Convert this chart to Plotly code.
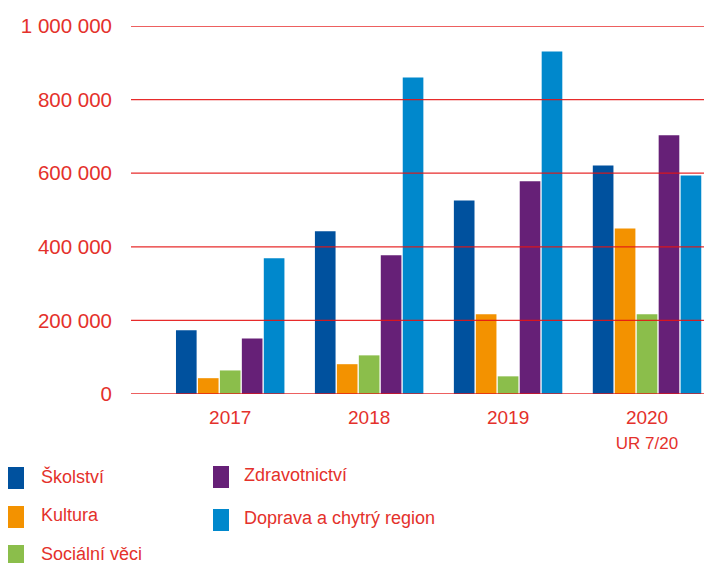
import plotly.graph_objects as go

years = ["2017", "2018", "2019", "2020"]
year_labels = ["2017", "2018", "2019", "2020<br><span style='font-size:17px'>UR 7/20</span>"]
series_names = ["Školství", "Kultura", "Sociální věci", "Zdravotnictví", "Doprava a chytrý region"]
skolstvi = [173000, 442000, 526000, 621000]
kultura = [43000, 81000, 217000, 450000]
socialni = [64000, 105000, 48000, 217000]
zdravotnictvi = [151000, 377000, 578000, 703000]
doprava = [369000, 860000, 931000, 594000]
colors = ["#00519e", "#f39200", "#8bbe4b", "#662077", "#0088cc"]
y_ticks = [0, 200000, 400000, 600000, 800000, 1000000]

values = [skolstvi, kultura, socialni, zdravotnictvi, doprava]
RED = "#e4312b"
W, H = 704, 563
ML, MR, MT, MB = 131, 0, 26, 169
PW, PH = W - ML - MR, H - MT - MB


def px(x):
    return (x - ML) / PW


def py(y):
    return (H - MB - y) / PH


fig = go.Figure()
for name, vals, col in zip(series_names, values, colors):
    fig.add_trace(go.Bar(x=years, y=vals, name=name, marker=dict(color=col, line=dict(width=0)),
                         showlegend=False))

for v in y_ticks:
    fig.add_shape(type="line", xref="paper", x0=0, x1=1, yref="y", y0=v, y1=v,
                  line=dict(color="rgba(228,20,20,0.9)", width=1.3), layer="above")

# manual legend
legend_pos = [(8, 478, 39), (8, 517, 39), (8, 556, 39), (213, 477, 242), (213, 520, 242)]
for name, col, (sx, cy, tx) in zip(series_names, colors, legend_pos):
    fig.add_shape(type="rect", xref="paper", yref="paper",
                  x0=px(sx), x1=px(sx + 16), y0=py(cy - 11), y1=py(cy + 11),
                  fillcolor=col, line=dict(width=0))
    fig.add_annotation(xref="paper", yref="paper", x=px(tx), y=py(cy - 2), text=name,
                       showarrow=False, xanchor="left", yanchor="middle",
                       font=dict(family="Liberation Sans, Arial", size=18, color=RED))

fig.update_layout(
    width=W, height=H,
    margin=dict(l=ML, r=MR, t=MT, b=MB),
    plot_bgcolor="white", paper_bgcolor="white",
    barmode="group", bargap=0.21, bargroupgap=0.06,
    separators=", ",
    font=dict(family="Liberation Sans, Arial", color=RED),
    xaxis=dict(type="category", range=[-0.714, 3.41], showgrid=False, showline=False,
               tickmode="array", tickvals=years, ticktext=year_labels,
               tickfont=dict(size=19, color=RED), ticks="", ticklabelstandoff=10),
    yaxis=dict(range=[0, 1000000], tickvals=y_ticks, tickformat=",d", showgrid=False,
               zeroline=False, showline=False, tickfont=dict(size=20.5, color=RED),
               ticks="", ticklabelstandoff=18),
)

fig.write_html("out.html", config={"displayModeBar": False},
               post_script="document.body.style.margin='0';document.body.style.overflow='hidden';")
